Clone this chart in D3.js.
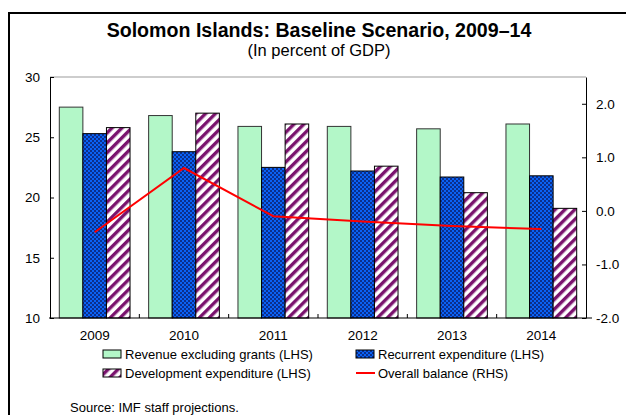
<!DOCTYPE html>
<html><head><meta charset="utf-8">
<script src="https://cdn.jsdelivr.net/npm/d3@7"></script>
<style>
html,body{margin:0;padding:0;background:#fff;}
svg{display:block;font-family:"Liberation Sans",Arial,sans-serif;}
</style></head>
<body>
<svg id="c" width="626" height="415"></svg>
<script>
const years = ["2009","2010","2011","2012","2013","2014"];
const revenue = [27.5, 26.8, 25.9, 25.9, 25.7, 26.1];
const recurrent = [25.3, 23.8, 22.5, 22.2, 21.7, 21.8];
const development = [25.8, 27.0, 26.1, 22.6, 20.4, 19.1];
const balance = [-0.4, 0.8, -0.1, -0.2, -0.28, -0.34];
const leftTicks = [10, 15, 20, 25, 30];
const rightTicks = [-2, -1, 0, 1, 2];
const seriesNames = ["Revenue excluding grants (LHS)", "Recurrent expenditure (LHS)", "Development expenditure (LHS)"];
const lineName = "Overall balance (RHS)";
const title = "Solomon Islands: Baseline Scenario, 2009\u201314";
const subtitle = "(In percent of GDP)";
const source = "Source: IMF staff projections.";

const svg = d3.select("#c");
const L = 50, R = 586, T = 77, B = 318;

// patterns
const defs = svg.append("defs");
const pr = defs.append("pattern").attr("id","pRec").attr("patternUnits","userSpaceOnUse").attr("width",4).attr("height",4);
pr.append("rect").attr("width",4).attr("height",4).attr("fill","#0a62f5");
pr.append("rect").attr("x",0).attr("y",0).attr("width",2).attr("height",2).attr("fill","#0b2f8c");
pr.append("rect").attr("x",2).attr("y",2).attr("width",2).attr("height",2).attr("fill","#0b2f8c");
const pd = defs.append("pattern").attr("id","pDev").attr("patternUnits","userSpaceOnUse").attr("width",7).attr("height",7).attr("patternTransform","rotate(45)");
pd.append("rect").attr("width",7).attr("height",7).attr("fill","#ffffff");
pd.append("rect").attr("x",0).attr("y",0).attr("width",3.4).attr("height",7).attr("fill","#7a136e");

const fills = ["#b3f7c8", "url(#pRec)", "url(#pDev)"];

// frame
svg.append("path").attr("d","M630,13H9V420").attr("fill","none").attr("stroke","#000").attr("stroke-width",2);

// title
svg.append("text").attr("x",319).attr("y",37).attr("text-anchor","middle").attr("font-weight","bold").attr("font-size",19.6).text(title);
svg.append("text").attr("x",319).attr("y",56).attr("text-anchor","middle").attr("font-size",16.5).text(subtitle);

const x = d3.scaleBand().domain(years).range([L, R]).padding(0);
const xs = d3.scaleBand().domain([0,1,2]).range([9.3, x.bandwidth()-9.3]).padding(0);
const yL = d3.scaleLinear().domain([10, 30]).range([B, T]);
const yR = d3.scaleLinear().domain([-2, 2.5]).range([B, T]);

// plot top border
svg.append("line").attr("x1",L).attr("x2",R).attr("y1",T).attr("y2",T).attr("stroke","#bdbdbd").attr("stroke-width",1.5);

// bars
const data = [revenue, recurrent, development];
data.forEach((arr, si) => {
  svg.append("g").selectAll("rect").data(arr).join("rect")
    .attr("x", (d,i) => x(years[i]) + xs(si))
    .attr("y", d => yL(d))
    .attr("width", xs.bandwidth())
    .attr("height", d => yL(10) - yL(d))
    .attr("fill", fills[si])
    .attr("stroke", si === 0 ? "#333" : "#000")
    .attr("stroke-width", 1);
});

// line
const line = d3.line().x((d,i) => x(years[i]) + x.bandwidth()/2).y(d => yR(d));
svg.append("path").datum(balance).attr("d", line).attr("fill","none").attr("stroke","#ff0000").attr("stroke-width",2);

// left axis
const gl = svg.append("g").attr("transform",`translate(${L},0)`)
  .call(d3.axisLeft(yL).tickValues(leftTicks).tickSizeInner(-4).tickSizeOuter(0).tickPadding(10).tickFormat(d3.format("d")));
gl.select(".domain").attr("stroke","#000");
gl.selectAll("text").attr("font-size",13.5).attr("fill","#000").style("font-family","Liberation Sans, Arial");

// right axis
const fmtR = d => d3.format(".1f")(d).replace("\u2212", "-");
const gr = svg.append("g").attr("transform",`translate(${R},0)`)
  .call(d3.axisRight(yR).tickValues(rightTicks).tickSizeInner(-4).tickSizeOuter(0).tickPadding(10).tickFormat(fmtR));
gr.select(".domain").attr("stroke","#000");
gr.selectAll("text").attr("font-size",13.5).attr("fill","#000").style("font-family","Liberation Sans, Arial");

// bottom axis
const gb = svg.append("g").attr("transform",`translate(0,${B})`)
  .call(d3.axisBottom(x).tickSize(0).tickPadding(12));
gb.select(".domain").remove();
gb.selectAll("text").attr("font-size",13.5).attr("fill","#000").style("font-family","Liberation Sans, Arial");
svg.append("line").attr("x1",L-1).attr("x2",R+6).attr("y1",B).attr("y2",B).attr("stroke","#000").attr("stroke-width",1.2);
svg.append("g").selectAll("line").data(years.slice(1)).join("line")
  .attr("x1", d => x(d)).attr("x2", d => x(d)).attr("y1", B).attr("y2", B-4).attr("stroke","#000");

// legend
const leg = [
  {name: seriesNames[0], fill: fills[0], x: 103, y: 354, type: "box"},
  {name: seriesNames[1], fill: fills[1], x: 356, y: 354, type: "box"},
  {name: seriesNames[2], fill: fills[2], x: 103, y: 373, type: "box"},
  {name: lineName, fill: "#ff0000", x: 356, y: 373, type: "line"}
];
leg.forEach(l => {
  if (l.type === "box") {
    svg.append("rect").attr("x", l.x).attr("y", l.y-4).attr("width",18).attr("height",8)
      .attr("fill", l.fill).attr("stroke","#000").attr("stroke-width",1);
  } else {
    svg.append("line").attr("x1", l.x).attr("x2", l.x+19).attr("y1", l.y).attr("y2", l.y).attr("stroke", l.fill).attr("stroke-width",2);
  }
  svg.append("text").attr("x", l.x+22).attr("y", l.y+5).attr("font-size",13).text(l.name);
});

svg.append("text").attr("x",70).attr("y",412).attr("font-size",13).text(source);
</script>
</body></html>
